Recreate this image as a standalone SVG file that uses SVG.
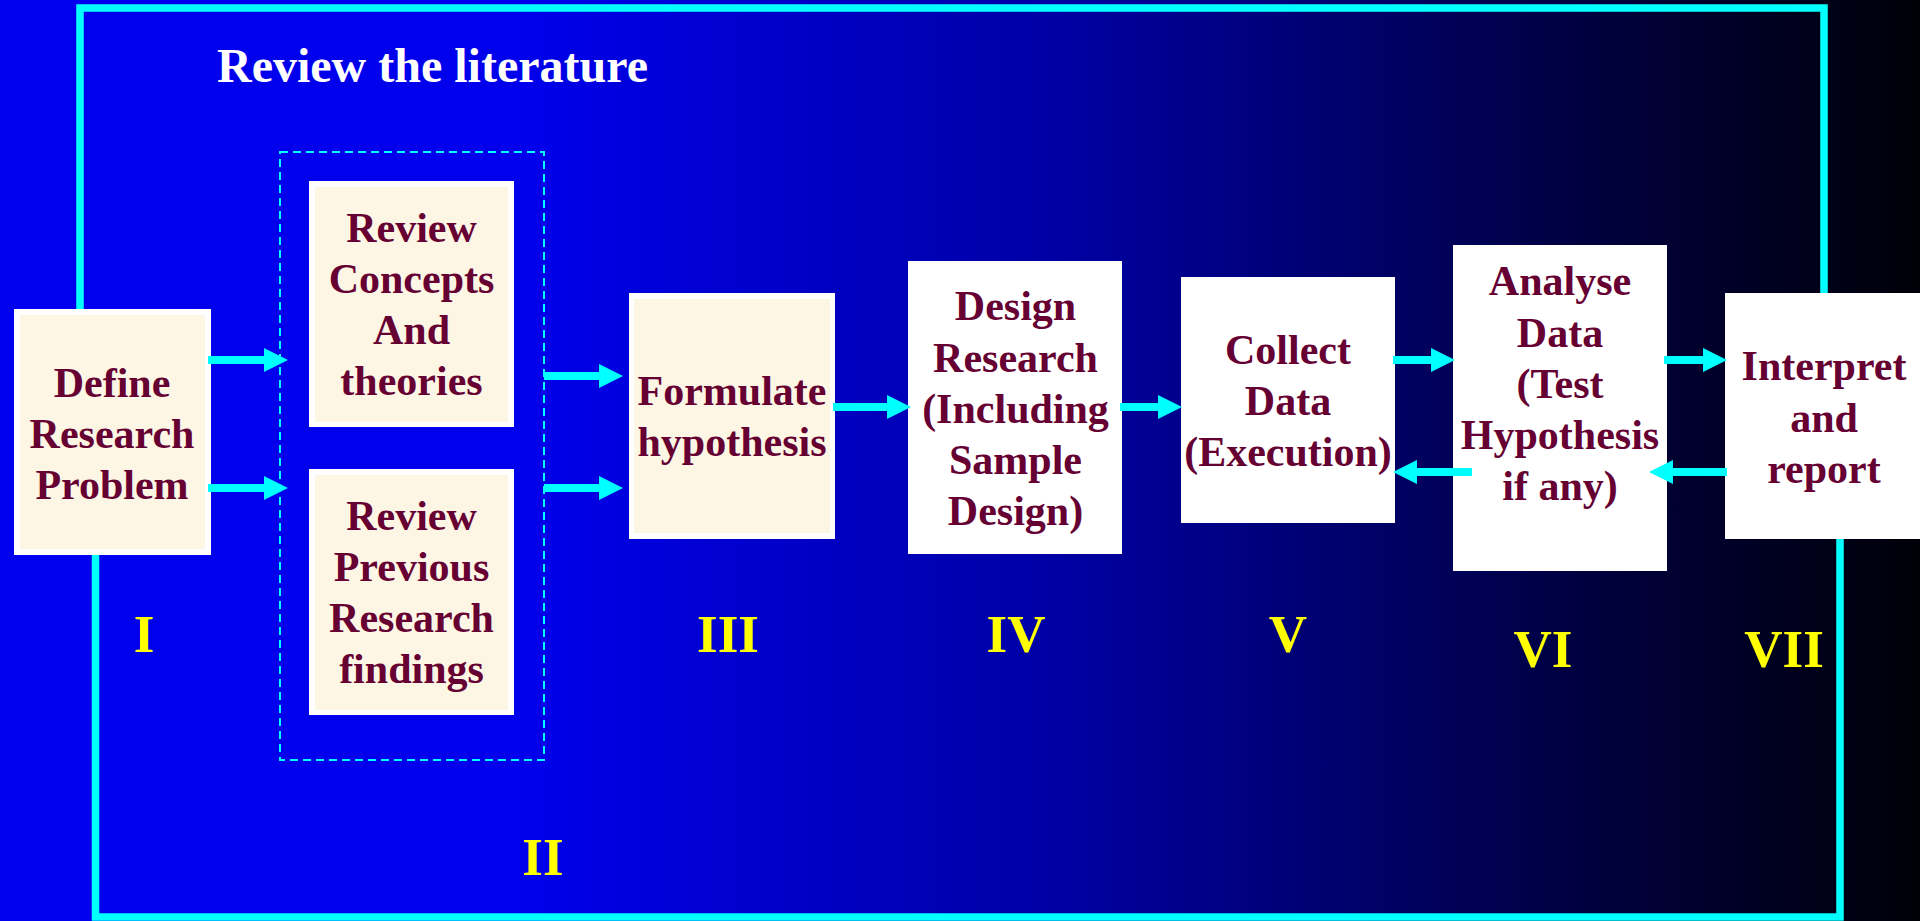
<svg xmlns="http://www.w3.org/2000/svg" width="1920" height="921" viewBox="0 0 1920 921">
<defs>
<linearGradient id="bg" x1="0" y1="0" x2="1" y2="0">
<stop offset="0" stop-color="#0000EE"/>
<stop offset="0.27" stop-color="#0000EC"/>
<stop offset="0.55" stop-color="#0000A4"/>
<stop offset="0.8" stop-color="#000048"/>
<stop offset="1" stop-color="#000008"/>
</linearGradient>
<marker id="ah" viewBox="0 0 24 24" markerWidth="24" markerHeight="24" refX="0" refY="12" orient="auto" markerUnits="userSpaceOnUse">
<path d="M0,0 L24,12 L0,24 Z" fill="#00FFFF"/>
</marker>
<style>
.frame{fill:none;stroke:#00FFFF;stroke-width:7.5}
.dash{fill:none;stroke:#00FFFF;stroke-width:2;stroke-dasharray:8 5}
.arrow{stroke:#00FFFF;stroke-width:8;fill:none;marker-end:url(#ah)}
.outer{fill:#FFFFFF}
.cream{fill:#FDF6E4}
.t{font-family:"Liberation Serif","Times New Roman",serif;font-weight:bold;font-size:42px;fill:#660033;text-anchor:middle}
.num{font-family:"Liberation Serif","Times New Roman",serif;font-weight:bold;font-size:53px;fill:#FFFF00;text-anchor:middle}
.title{font-family:"Liberation Serif","Times New Roman",serif;font-weight:bold;font-size:48px;fill:#FFFFFF}
</style>
</defs>
<rect x="0" y="0" width="1920" height="921" fill="url(#bg)"/>
<g id="frame">
<path class="frame" d="M80,312 V8 H1824 V294"/>
<path class="frame" d="M95.5,554 V917 H1840 V538"/>
<rect class="dash" x="280" y="152" width="264" height="608"/>
</g>
<text class="title" x="217" y="82">Review the literature</text>
<g id="n1">
<rect class="outer" x="14" y="309" width="197" height="246"/>
<rect class="cream" x="20" y="315" width="185" height="234"/>
<text class="t" x="112" y="397">Define</text>
<text class="t" x="112" y="448">Research</text>
<text class="t" x="112" y="499">Problem</text>
</g>
<g id="n2">
<rect class="outer" x="309" y="181" width="205" height="246"/>
<rect class="cream" x="315" y="187" width="193" height="235"/>
<text class="t" x="411.5" y="242">Review</text>
<text class="t" x="411.5" y="293">Concepts</text>
<text class="t" x="411.5" y="344">And</text>
<text class="t" x="411.5" y="395">theories</text>
</g>
<g id="n3">
<rect class="outer" x="309" y="469" width="205" height="246"/>
<rect class="cream" x="315" y="475" width="193" height="235"/>
<text class="t" x="411.5" y="530">Review</text>
<text class="t" x="411.5" y="581">Previous</text>
<text class="t" x="411.5" y="632">Research</text>
<text class="t" x="411.5" y="683">findings</text>
</g>
<g id="n4">
<rect class="outer" x="629" y="293" width="206" height="246"/>
<rect class="cream" x="634" y="299" width="196" height="234"/>
<text class="t" x="732" y="405">Formulate</text>
<text class="t" x="732" y="456">hypothesis</text>
</g>
<g id="n5">
<rect class="outer" x="908" y="261" width="214" height="293"/>
<text class="t" x="1015.5" y="320">Design</text>
<text class="t" x="1015.5" y="372">Research</text>
<text class="t" x="1015.5" y="423">(Including</text>
<text class="t" x="1015.5" y="474">Sample</text>
<text class="t" x="1015.5" y="525">Design)</text>
</g>
<g id="n6">
<rect class="outer" x="1181" y="277" width="214" height="246"/>
<text class="t" x="1288" y="364">Collect</text>
<text class="t" x="1288" y="415">Data</text>
<text class="t" x="1288" y="466">(Execution)</text>
</g>
<g id="n7">
<rect class="outer" x="1453" y="245" width="214" height="326"/>
<text class="t" x="1560" y="295">Analyse</text>
<text class="t" x="1560" y="347">Data</text>
<text class="t" x="1560" y="398">(Test</text>
<text class="t" x="1560" y="449">Hypothesis</text>
<text class="t" x="1560" y="500">if any)</text>
</g>
<g id="n8">
<rect class="outer" x="1725" y="293" width="195" height="246"/>
<text class="t" x="1824" y="380">Interpret</text>
<text class="t" x="1824" y="432">and</text>
<text class="t" x="1824" y="483">report</text>
</g>
<g id="connectors">
<line class="arrow" x1="208" y1="360" x2="264" y2="360"/>
<line class="arrow" x1="208" y1="488" x2="264" y2="488"/>
<line class="arrow" x1="544" y1="376" x2="599" y2="376"/>
<line class="arrow" x1="544" y1="488" x2="599" y2="488"/>
<line class="arrow" x1="833" y1="407" x2="887" y2="407"/>
<line class="arrow" x1="1120" y1="407" x2="1158" y2="407"/>
<line class="arrow" x1="1393" y1="360" x2="1431" y2="360"/>
<line class="arrow" x1="1664" y1="360" x2="1703" y2="360"/>
<line class="arrow" x1="1472" y1="472" x2="1417" y2="472"/>
<line class="arrow" x1="1727" y1="472" x2="1673" y2="472"/>
</g>
<g id="labels">
<text class="num" x="144" y="652">I</text>
<text class="num" x="543" y="875">II</text>
<text class="num" x="728" y="652">III</text>
<text class="num" x="1016" y="652">IV</text>
<text class="num" x="1288" y="652">V</text>
<text class="num" x="1543" y="667">VI</text>
<text class="num" x="1784" y="667">VII</text>
</g>
</svg>
